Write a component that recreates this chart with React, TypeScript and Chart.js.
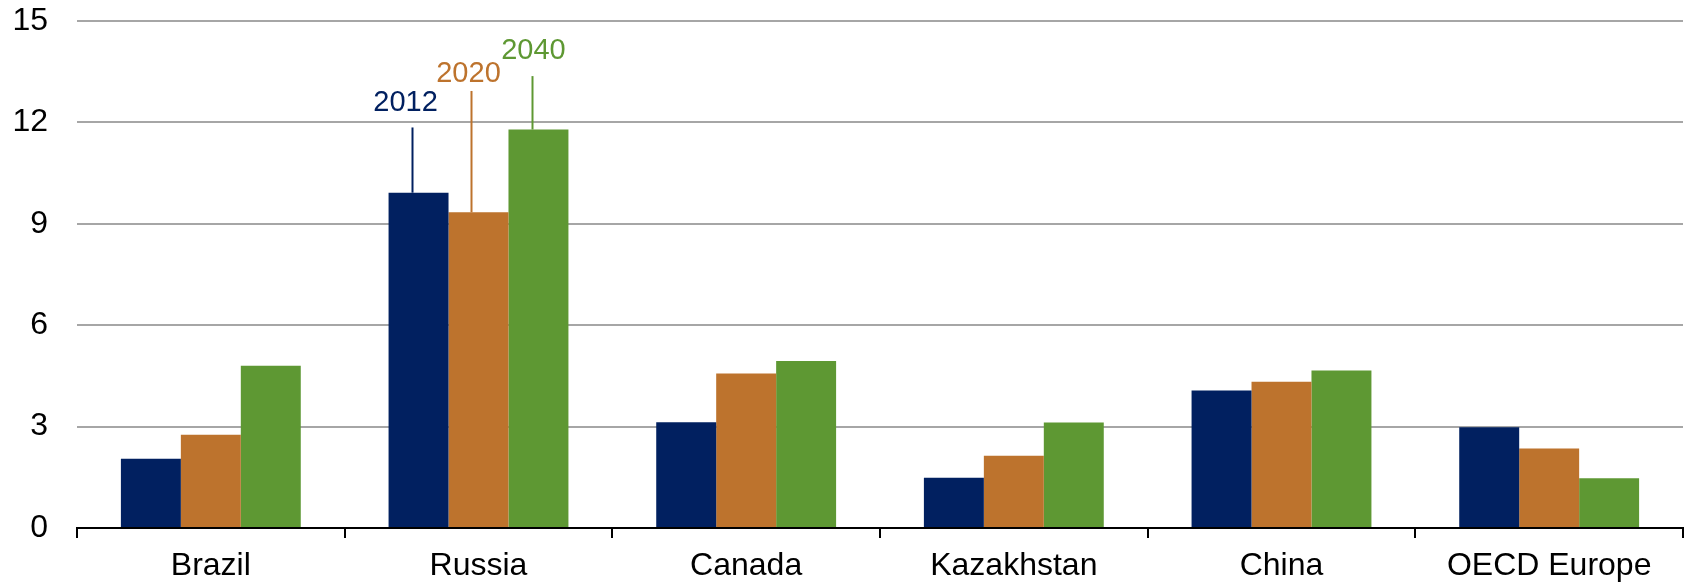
import React, { useEffect, useRef } from 'react';
import { Chart, registerables } from 'chart.js';

Chart.register(...registerables);

const categories = ['Brazil', 'Russia', 'Canada', 'Kazakhstan', 'China', 'OECD Europe'];
const seriesLabels = ['2012', '2020', '2040'];
const values2012 = [2.05, 9.92, 3.13, 1.49, 4.07, 2.98];
const values2020 = [2.76, 9.34, 4.57, 2.14, 4.33, 2.35];
const values2040 = [4.8, 11.79, 4.94, 3.12, 4.66, 1.47];
const yTickValues = [0, 3, 6, 9, 12, 15];

// Callout on the Russia group: leader top and label baseline, in data units
const calloutCategory = 'Russia';
const calloutLineTop = [11.85, 12.93, 13.37];
const calloutTextBaseline = [12.33, 13.2, 13.87];

const COLORS = ['#012060', '#BD732D', '#5E9833'];
const FONT = '"Liberation Sans", Arial, Helvetica, sans-serif';

const calloutPlugin = {
  id: 'callouts',
  afterDatasetsDraw(chart: any) {
    const idx = categories.indexOf(calloutCategory);
    const yScale = chart.scales.y;
    const ctx = chart.ctx;
    const lineDx = [-7, -8, -6];
    const textDx = [-13, -10, -5];
    ctx.save();
    seriesLabels.forEach((lab, i) => {
      const bar = chart.getDatasetMeta(i).data[idx];
      if (!bar) return;
      const lx = Math.round(bar.x + lineDx[i]) + 0.5;
      ctx.strokeStyle = COLORS[i];
      ctx.lineWidth = 2;
      ctx.beginPath();
      ctx.moveTo(lx, yScale.getPixelForValue(calloutLineTop[i]));
      ctx.lineTo(lx, bar.y);
      ctx.stroke();
      ctx.fillStyle = COLORS[i];
      ctx.font = `29px ${FONT}`;
      ctx.textAlign = 'center';
      ctx.textBaseline = 'alphabetic';
      ctx.fillText(lab, bar.x + textDx[i], yScale.getPixelForValue(calloutTextBaseline[i]));
    });
    ctx.restore();
  },
};

export default function App() {
  const ref = useRef<HTMLCanvasElement>(null);

  useEffect(() => {
    if (!ref.current) return;
    const chart = new Chart(ref.current, {
      type: 'bar',
      data: {
        labels: categories,
        datasets: [values2012, values2020, values2040].map((d, i) => ({
          label: seriesLabels[i],
          data: d,
          backgroundColor: COLORS[i],
          borderWidth: 0,
          categoryPercentage: 0.672,
          barPercentage: 1.0,
        })),
      },
      options: {
        animation: false,
        responsive: true,
        maintainAspectRatio: false,
        layout: { padding: { left: 0, right: 7, top: 21, bottom: 0 } },
        plugins: {
          legend: { display: false },
          tooltip: { enabled: false },
        },
        scales: {
          x: {
            grid: {
              offset: true,
              drawOnChartArea: false,
              drawTicks: true,
              tickLength: 10,
              color: '#000',
              lineWidth: 2,
            },
            border: { display: true, color: '#000', width: 2 },
            ticks: {
              color: '#000',
              font: { family: FONT, size: 32 },
              padding: 9,
              maxRotation: 0,
              autoSkip: false,
            },
            afterFit: (s: any) => {
              s.height = 57;
              s.paddingLeft = 0;
              s.paddingRight = 0;
            },
          },
          y: {
            min: 0,
            max: 15,
            afterBuildTicks: (s: any) => {
              s.ticks = yTickValues.map((v) => ({ value: v }));
            },
            ticks: {
              color: '#000',
              font: { family: FONT, size: 32 },
              padding: 29,
            },
            grid: {
              color: (c: any) => (c.tick && c.tick.value === 0 ? 'rgba(0,0,0,0)' : '#A6A6A6'),
              lineWidth: 2,
              drawTicks: false,
            },
            border: { display: false },
            afterFit: (s: any) => {
              s.width = 77;
              s.paddingTop = 0;
              s.paddingBottom = 0;
            },
          },
        },
      },
      plugins: [calloutPlugin],
    });
    return () => chart.destroy();
  }, []);

  return (
    <div style={{ position: 'fixed', left: 0, top: 0, width: 1690, height: 585, background: '#fff' }}>
      <canvas ref={ref} />
    </div>
  );
}
